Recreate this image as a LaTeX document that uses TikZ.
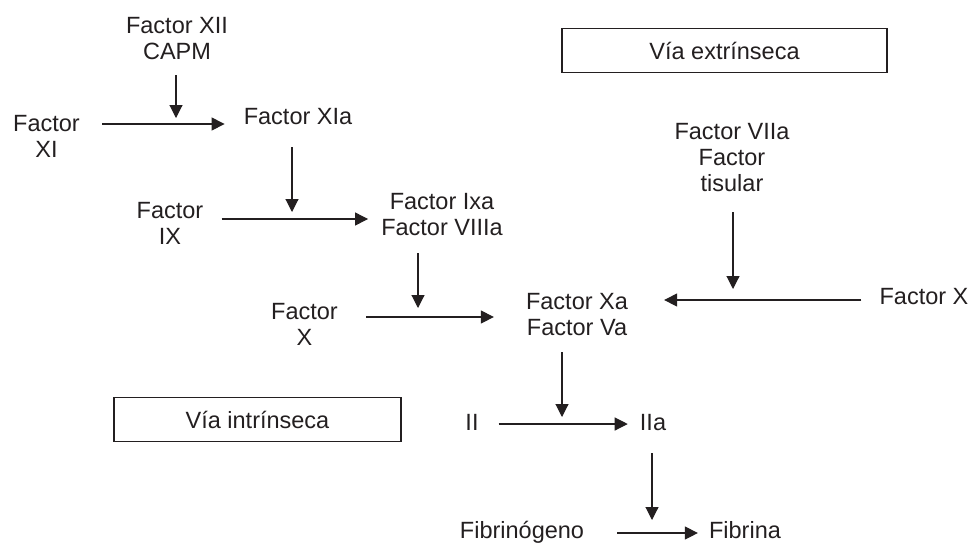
\documentclass[tikz,border=0pt]{standalone}
\usepackage{fontspec}
\setmainfont{Liberation Sans}
\usetikzlibrary{arrows.meta}
\definecolor{ink}{RGB}{35,31,32}

\begin{document}
\begin{tikzpicture}[x=1pt,y=-1pt,
        every node/.style={font=\fontsize{23.5}{26}\selectfont, text=ink, inner sep=3pt},
        lbl/.style={align=center},
        via/.style={draw=ink, line width=1.2pt, minimum width=#1, minimum height=44pt},
        arr/.style={draw=ink, line width=1.1pt, -{Triangle[length=13pt,width=13pt]}}]
        \useasboundingbox (0,0) rectangle (971,542);
        % cajas
        \node[via=325pt] (extr) at (724.5,50.5) {Vía extrínseca};
        \node[via=287pt] (intr) at (257.5,419.5) {Vía intrínseca};
        % factores
        \node[lbl] (fxii) at (177,39) {Factor XII\\CAPM};
        \node[lbl] (fxi) at (46.5,136) {Factor\\XI};
        \node[anchor=base] (fxia) at (298,124) {Factor XIa};
        \node[lbl] (fix) at (170,223.5) {Factor\\IX};
        \node[lbl] (fixa) at (442,215) {Factor Ixa\\Factor VIIIa};
        \node[lbl] (fx) at (304.5,324.5) {Factor\\X};
        \node[lbl] (fxa) at (577,315) {Factor Xa\\Factor Va};
        \node[lbl] (fviia) at (732,158) {Factor VIIa\\Factor\\tisular};
        \node[anchor=base] (fxr) at (924,304) {Factor X};
        \node[anchor=base] (fii) at (472,430) {II};
        \node[anchor=base] (fiia) at (653,430) {IIa};
        \node[anchor=base] (fbg) at (522,538) {Fibrinógeno};
        \node[anchor=base] (fbn) at (745,538) {Fibrina};
        % cruces
        \coordinate (h1) at (176,124);
        \coordinate (h2) at (292,219);
        \coordinate (h3) at (418,317);
        \coordinate (h4) at (733,300);
        \coordinate (h5) at (562,424);
        \coordinate (h6) at (652,533);
        % flechas
        \draw[arr, shorten <=19pt, shorten >=16pt] (fxi.east |- h1) -- (fxia.west |- h1);
        \draw[arr, shorten <=12pt] (fxii.south -| h1) -- ([yshift=6pt]h1);
        \draw[arr, shorten <=15pt, shorten >=10pt] (fix.east |- h2) -- (fixa.west |- h2);
        \draw[arr, shorten <=20pt] (fxia.south -| h2) -- ([yshift=7pt]h2);
        \draw[arr, shorten <=25pt, shorten >=29pt] (fx.east |- h3) -- (fxa.west |- h3);
        \draw[arr, shorten <=14pt] (fixa.south -| h3) -- ([yshift=9pt]h3);
        \draw[arr, shorten <=15pt, shorten >=33pt] (fxr.west |- h4) -- (fxa.east |- h4);
        \draw[arr, shorten <=17pt] (fviia.south -| h4) -- ([yshift=11pt]h4);
        \draw[arr, shorten <=17pt, shorten >=9pt] (fii.east |- h5) -- (fiia.west |- h5);
        \draw[arr, shorten <=13pt] (fxa.south -| h5) -- ([yshift=7pt]h5);
        \draw[arr, shorten <=30pt, shorten >=8pt] (fbg.east |- h6) -- (fbn.west |- h6);
        \draw[arr, shorten <=20pt] (fiia.south -| h6) -- ([yshift=13pt]h6);
\end{tikzpicture}
\end{document}
